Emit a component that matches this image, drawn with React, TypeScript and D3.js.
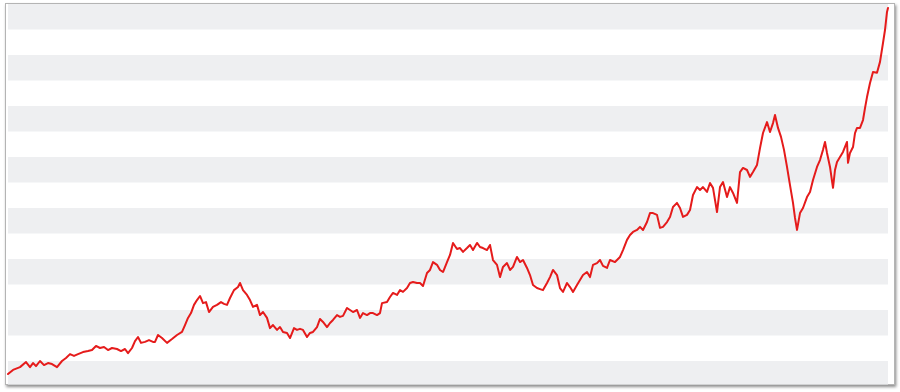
import React from "react";
import * as d3 from "d3";

// sample time index (0 = first observation, 880 = last)
const timeIndex: number[] = [
  0, 5, 12, 18, 22, 25, 28, 32, 36, 40, 44, 49, 54, 58, 62, 66, 70, 75, 80, 84, 88, 92, 96, 100, 104, 109, 113, 117, 120, 124, 127, 130, 133, 137, 141, 145, 147, 150, 154, 159, 164, 169, 174, 177, 180, 183, 186, 189, 192, 195, 198, 201, 205, 209, 213, 216, 219, 222, 226, 230, 232, 235, 239, 242, 245, 249, 252, 255, 259, 262, 265, 269, 272, 275, 279, 282, 286, 289, 292, 295, 299, 302, 305, 309, 312, 315, 319, 322, 325, 329, 332, 335, 339, 342, 345, 349, 352, 355, 359, 362, 365, 369, 372, 374, 379, 382, 385, 389, 392, 395, 399, 402, 405, 409, 412, 415, 419, 422, 425, 429, 432, 435, 439, 442, 445, 449, 452, 455, 459, 462, 465, 469, 472, 475, 479, 482, 485, 489, 492, 495, 499, 502, 505, 509, 512, 515, 519, 522, 525, 529, 532, 535, 539, 542, 545, 549, 552, 555, 559, 562, 565, 569, 572, 575, 579, 582, 585, 589, 592, 595, 599, 602, 607, 612, 615, 619, 622, 625, 629, 632, 635, 639, 642, 645, 649, 652, 655, 659, 662, 665, 669, 672, 675, 679, 682, 685, 689, 692, 695, 699, 702, 705, 709, 712, 715, 719, 722, 725, 729, 732, 735, 739, 742, 745, 749, 752, 755, 759, 762, 765, 767, 770, 773, 776, 779, 782, 785, 787, 789, 792, 795, 799, 802, 805, 809, 812, 815, 817, 819, 822, 825, 827, 829, 832, 835, 839, 840, 842, 845, 847, 849, 852, 855, 857, 859, 862, 865, 869, 872, 875, 877, 879, 880,
];

// index level
const indexValues: number[] = [
  49, 65, 76, 96, 76, 92, 80, 100, 84, 92, 88, 76, 100, 112, 127, 120, 127, 135, 139, 143, 159, 151, 155, 143, 151, 147, 139, 147, 131, 151, 178, 194, 171, 175, 182, 175, 175, 202, 190, 171, 186, 202, 214, 241, 269, 288, 320, 339, 355, 327, 331, 292, 312, 320, 331, 324, 320, 347, 378, 390, 406, 378, 359, 339, 312, 320, 280, 292, 269, 229, 241, 222, 233, 214, 210, 190, 229, 222, 226, 222, 194, 210, 214, 233, 265, 253, 233, 249, 261, 280, 273, 277, 308, 300, 292, 300, 269, 288, 280, 288, 288, 280, 288, 327, 331, 351, 367, 359, 378, 371, 386, 406, 410, 406, 406, 394, 445, 457, 488, 477, 457, 449, 488, 516, 563, 539, 543, 528, 543, 555, 535, 563, 547, 543, 535, 555, 496, 477, 429, 469, 484, 457, 469, 508, 488, 496, 465, 437, 398, 386, 382, 378, 406, 429, 457, 437, 386, 371, 406, 390, 371, 398, 418, 437, 449, 429, 477, 484, 496, 473, 465, 496, 488, 508, 535, 575, 594, 606, 614, 626, 614, 645, 680, 680, 673, 622, 626, 645, 665, 704, 720, 700, 665, 673, 692, 751, 782, 771, 782, 763, 798, 779, 684, 782, 802, 743, 782, 759, 720, 841, 857, 849, 822, 841, 869, 935, 994, 1037, 998, 1033, 1065, 1014, 979, 928, 861, 790, 720, 661, 614, 680, 700, 743, 763, 810, 861, 888, 928, 959, 916, 861, 779, 849, 880, 900, 920, 959, 877, 916, 939, 994, 1014, 1014, 1045, 1092, 1135, 1190, 1233, 1230, 1273, 1347, 1398, 1469, 1484,
];

const yTicks: number[] = d3.range(0, 1501, 100);

const W = 900;
const H = 392;

export default function App() {
  const x = d3.scaleLinear().domain([0, 880]).range([8, 888]);
  const y = d3.scaleLinear().domain([0, 1500]).range([386.5, 4]);

  const pts: [number, number][] = timeIndex.map((t, i) => [t, indexValues[i]]);
  const line = d3
    .line<[number, number]>()
    .x((d) => x(d[0]))
    .y((d) => y(d[1]))
    .curve(d3.curveLinear);

  const bands = yTicks.slice(0, -1).map((v, i) => ({ lo: v, hi: yTicks[i + 1], gray: i % 2 === 0 }));

  return (
    <div style={{ position: "absolute", left: 0, top: 0, width: W, height: H, background: "#fff" }}>
      <svg width={W} height={H} style={{ display: "block" }}>
        <defs>
          <filter id="shadow" x="-5%" y="-5%" width="110%" height="115%">
            <feDropShadow dx="1.2" dy="2" stdDeviation="1.4" floodColor="#000" floodOpacity="0.45" />
          </filter>
          <clipPath id="plot">
            <rect x={8} y={4} width={880} height={380.5} />
          </clipPath>
        </defs>
        <rect x={5.5} y={3.5} width={889} height={381} fill="#fff" stroke="#b4b4b4" strokeWidth={1} filter="url(#shadow)" />
        <g clipPath="url(#plot)">
          {bands
            .filter((b) => b.gray)
            .map((b, i) => (
              <rect key={i} x={x(0)} width={x(880) - x(0)} y={y(b.hi)} height={y(b.lo) - y(b.hi)} fill="#eeeff1" />
            ))}
        </g>
        <path d={line(pts) || ""} fill="none" stroke="#e51b1b" strokeWidth={2} strokeLinejoin="round" strokeLinecap="round" />
      </svg>
    </div>
  );
}
